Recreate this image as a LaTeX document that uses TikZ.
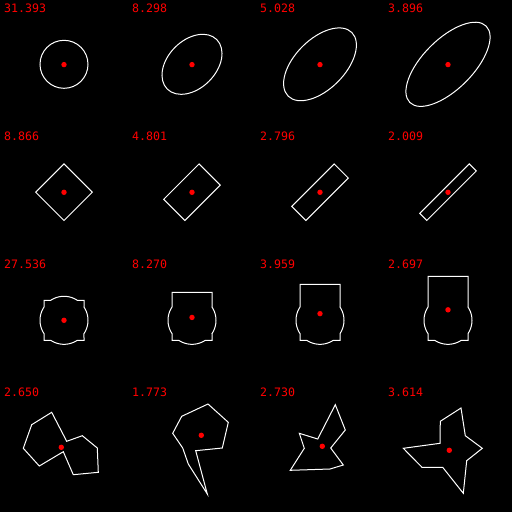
\documentclass[tikz,border=0pt]{standalone}
\usepackage{fontspec}
\newfontfamily\labfont{DejaVu Sans Mono}
\begin{document}
\begin{tikzpicture}[x=1pt,y=-1pt,
  outl/.style={draw=white,line width=1pt,line join=miter},
  cdot/.style={fill=red},
  lab/.style={text=red,font=\labfont\fontsize{11.6}{12}\selectfont,anchor=base west,inner sep=0pt}]
\fill[black] (0,0) rectangle (512,512);
\useasboundingbox (0,0) rectangle (512,512);
% labels
\foreach \i/\j/\t [count=\n] in {0/0/31.393,1/0/8.298,2/0/5.028,3/0/3.896,
  0/1/8.866,1/1/4.801,2/1/2.796,3/1/2.009,
  0/2/27.536,1/2/8.270,2/2/3.959,3/2/2.697,
  0/3/2.650,1/3/1.773,2/3/2.730,3/3/3.614}
  \node[lab] (lab\n) at ({128*\i+4},{128*\j+12.3}) {\t};
% row 1: circle and ellipses
\draw[outl] (64,64.3) circle[radius=24];
\foreach \k/\a/\b in {1/35/24,2/45/25,3/54/25}{
  \draw[outl,rotate around={45:({64+128*\k},64.3)}] ({64+128*\k},64.3) ellipse[x radius=\a, y radius=\b];
}
\foreach \k in {0,1,2,3} \fill[cdot] ({64+128*\k},64.6) circle[radius=2.7];
% row 2: rectangles
\foreach \k/\l/\w in {0/40/40,1/50/30,2/60/20,3/70/10}{
  \begin{scope}[shift={({64+128*\k},192.2)},rotate=45]
    \draw[outl] ({-\l/2},{-\w/2}) rectangle ({\l/2},{\w/2});
  \end{scope}
  \fill[cdot] ({64+128*\k},192.3) circle[radius=2.7];
}
% row 3: circle plus square / rectangle
\begin{scope}[shift={(64,320.3)}]
\draw[outl] (20,-13.27) -- plot[domain=-33.56:33.56,samples=25] ({24*cos(\x)},{24*sin(\x)})
  -- (20,20) -- plot[domain=56.44:123.56,samples=25] ({24*cos(\x)},{24*sin(\x)})
  -- (-20,20) -- plot[domain=146.44:213.56,samples=25] ({24*cos(\x)},{24*sin(\x)})
  -- (-20,-20) -- plot[domain=236.44:303.56,samples=25] ({24*cos(\x)},{24*sin(\x)})
  -- (20,-20) -- cycle;
\fill[cdot] (0,0) circle[radius=2.7];
\end{scope}
\foreach \k/\t/\c in {1/-28/-2.87,2/-36/-6.66,3/-44/-10.5}{
\begin{scope}[shift={({64+128*\k},320.3)}]
\draw[outl] (20,-13.27) -- plot[domain=-33.56:33.56,samples=25] ({24*cos(\x)},{24*sin(\x)})
  -- (20,20) -- plot[domain=56.44:123.56,samples=25] ({24*cos(\x)},{24*sin(\x)})
  -- (-20,20) -- plot[domain=146.44:213.56,samples=25] ({24*cos(\x)},{24*sin(\x)})
  -- (-20,\t) -- (20,\t) -- cycle;
\fill[cdot] (0,\c) circle[radius=2.7];
\end{scope}
}
% row 4: polygons
\draw[outl] (51.7,412.3) -- (66.7,441.3) -- (82.3,435.7) -- (97.3,448) -- (98.3,472.3)
  -- (73.3,474.7) -- (63.3,451.7) -- (39.3,466) -- (23.3,448.3) -- (31.7,424.7) -- cycle;
\fill[cdot] (61.3,447.3) circle[radius=2.7];
\draw[outl] (208,404) -- (228.3,422.3) -- (222.3,448) -- (195.7,450.7) -- (207.3,494)
  -- (188.3,464) -- (182.7,448) -- (172.7,433.3) -- (181.7,416.3) -- cycle;
\fill[cdot] (201.3,435.3) circle[radius=2.7];
\draw[outl] (335.3,404.7) -- (345.3,430) -- (330.7,448) -- (343.3,465) -- (330,469)
  -- (290.3,470.3) -- (304.3,448.3) -- (299.3,433.3) -- (317.7,439) -- cycle;
\fill[cdot] (322.3,446.3) circle[radius=2.7];
\draw[outl] (461,408) -- (465.3,435.7) -- (482.3,448.3) -- (466.7,460.7) -- (463.3,493.3)
  -- (442.7,467.3) -- (422,467.3) -- (403.3,448.3) -- (440,443.3) -- (440.3,421.3) -- cycle;
\fill[cdot] (449.3,450.3) circle[radius=2.7];
\end{tikzpicture}
\end{document}
